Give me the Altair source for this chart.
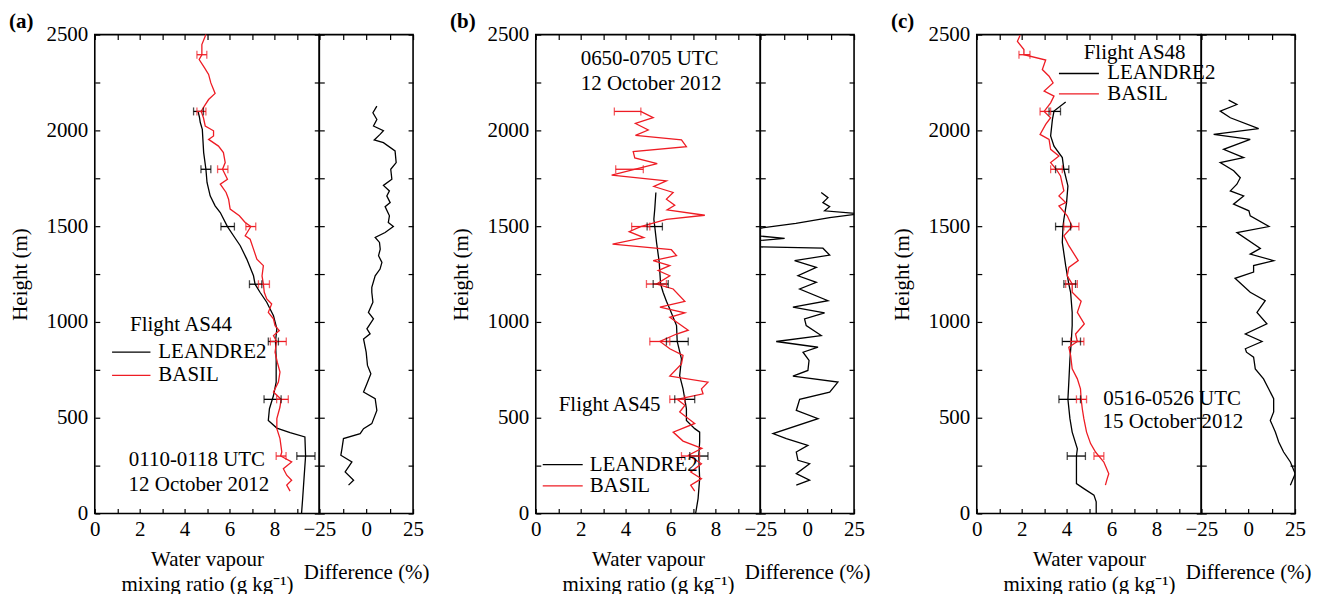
import altair as alt
import pandas as pd

FONT = "Liberation Serif"
FS = 21
RED = "#ee1c24"
BLK = "#000000"

# ---------------- panel (a) ----------------
a_basil_h = [2500, 2448, 2395, 2370, 2326, 2292, 2248, 2193, 2161, 2127, 2099, 2066, 2023, 1998, 1971,
             1953, 1918, 1884, 1832, 1797, 1745, 1719, 1676, 1641, 1589, 1554, 1519, 1498, 1450, 1432,
             1380, 1328, 1294, 1240, 1197, 1155, 1120, 1094, 1050, 1016, 981, 955, 929, 898, 842, 790,
             738, 686, 634, 596, 556, 495, 443, 391, 321, 300, 269, 234, 200, 174, 148, 117]
a_basil_v = [4.95, 4.77, 4.77, 4.65, 4.89, 5.07, 5.17, 5.36, 5.07, 4.88, 4.74, 4.84, 4.92, 5.29, 5.29,
             5.07, 5.51, 5.73, 5.81, 5.69, 5.91, 5.59, 5.85, 5.96, 6.03, 6.44, 6.70, 6.95, 6.70, 6.92,
             7.07, 7.22, 7.51, 7.45, 7.51, 7.55, 7.66, 7.88, 7.73, 7.96, 8.03, 8.22, 7.96, 8.10, 8.03, 8.13,
             8.25, 8.18, 7.96, 8.30, 8.25, 8.11, 8.11, 8.25, 8.33, 8.28, 8.77, 8.40, 8.55, 8.77, 8.55, 8.70]
a_lean_h = [2099, 2070, 2041, 2005, 1884, 1797, 1728, 1658, 1606, 1571, 1498, 1450, 1398, 1328, 1241,
            1197, 1155, 1103, 1033, 964, 898, 807, 686, 616, 547, 486, 446, 422, 400, 300, 182, 78, 0]
a_lean_v = [4.60, 4.66, 4.70, 4.79, 4.85, 4.95, 5.00, 5.14, 5.36, 5.59, 5.91, 6.18, 6.48, 6.77, 7.07,
            7.14, 7.36, 7.66, 7.96, 8.11, 8.05, 8.08, 8.08, 7.96, 7.78, 7.73, 8.11, 8.70, 9.36, 9.39, 9.32, 9.26, 9.21]
a_diff_h = [2127, 2092, 2057, 2023, 1998, 1979, 1950, 1936, 1893, 1832, 1797, 1745, 1713, 1684, 1658,
            1623, 1602, 1554, 1519, 1498, 1467, 1441, 1415, 1380, 1346, 1311, 1276, 1241, 1181, 1155,
            1103, 1050, 1016, 964, 938, 911, 842, 773, 729, 677, 634, 599, 538, 469, 443, 417, 391,
            339, 304, 269, 217, 174, 148]
a_diff_v = [5.7, 3.6, 5.7, 3.9, 9.2, 7.4, 4.3, 9.2, 15.4, 16.0, 13.1, 13.7, 9.2, 12.4, 11.0,
            12.8, 10.1, 12.4, 11.8, 14.5, 10.1, 4.8, 7.1, 7.5, 6.6, 8.4, 7.4, 4.8, 3.0, 3.0,
            3.6, 1.2, 3.9, 0.4, 2.1, -1.4, 0.0, 0.7, 2.5, 0.4, -1.4, 4.8, 5.7, 3.0, -1.4, -3.2, -12.1,
            -12.9, -13.5, -7.6, -11.2, -6.7, -9.4]
a_eb_h = [2395, 2099, 1797, 1498, 1197, 898, 596, 300]
a_eb_lo = [4.55, 4.55, 5.47, 6.73, 7.29, 7.82, 8.10, 8.08]
a_eb_hi = [4.99, 4.95, 5.93, 7.17, 7.78, 8.53, 8.62, 8.52]
a_el_h = [2099, 1797, 1498, 1197, 898, 596, 300]
a_el_lo = [4.40, 4.73, 5.62, 6.89, 7.73, 7.54, 9.00]
a_el_hi = [4.84, 5.17, 6.22, 7.44, 8.18, 8.30, 9.81]

# ---------------- panel (b) ----------------
b_basil_h = [2099, 2066, 2036, 2002, 1974, 1950, 1915, 1889, 1856, 1827, 1766, 1736, 1707, 1676, 1641,
             1609, 1585, 1557, 1536, 1498, 1471, 1440, 1406, 1377, 1346, 1320, 1294, 1268, 1241, 1198,
             1172, 1108, 1077, 1047, 1024, 957, 937, 898, 860, 825, 781, 717, 686, 651, 625, 596,
             565, 530, 470, 425, 378, 340, 304, 260, 217, 182, 148, 117]
b_basil_v = [4.67, 5.23, 4.44, 5.01, 4.44, 6.49, 6.71, 4.34, 4.41, 5.41, 3.38, 5.82, 5.26, 6.12, 5.82,
             6.19, 5.85, 7.53, 5.82, 4.67, 4.16, 4.81, 3.42, 6.04, 6.27, 5.23, 5.97, 5.45, 5.97, 5.38,
             6.12, 6.64, 5.53, 6.64, 5.97, 6.79, 6.27, 5.53, 5.97, 6.56, 6.49, 5.97, 7.67, 7.38, 7.45, 6.30,
             6.64, 6.41, 7.08, 6.12, 6.56, 7.40, 6.80, 7.38, 6.90, 7.38, 6.90, 7.08]
b_lean_h = [1676, 1589, 1536, 1498, 1415, 1311, 1198, 1155, 1108, 1068, 981, 898, 807, 720, 651, 596,
            547, 486, 443, 425, 373, 300, 182, 78, 0]
b_lean_v = [5.35, 5.30, 5.26, 5.30, 5.38, 5.50, 5.56, 5.67, 5.82, 5.97, 6.27, 6.30, 6.49, 6.41, 6.56, 6.64,
            6.71, 6.71, 7.08, 7.30, 7.30, 7.26, 7.30, 7.23, 7.12]
b_diff_h = [1676, 1649, 1623, 1602, 1580, 1565, 1545, 1515, 1488, 1450, 1436, 1424, 1392, 1385, 1349,
            1320, 1285, 1241, 1207, 1172, 1111, 1077, 1047, 1016, 981, 929, 898, 868, 842, 799, 747,
            717, 686, 634, 596, 538, 495, 417, 391, 356, 321, 278, 260, 208, 174, 148]
b_diff_v = [7.5, 11.1, 8.4, 12.0, 9.3, 28.0, 12.0, -6.0, -26.0, -27.0, -12.0, -27.0, -27.0, 8.4, 12.0,
            -6.7, 4.9, -4.9, 4.9, -4.0, 11.1, -7.6, 9.3, -1.4, -0.5, 7.5, -16.5, 5.8, -2.2, 1.0, 0.4,
            -7.6, 16.4, 12.0, -4.0, -5.8, 5.8, -18.2, -11.1, 0.4, -5.8, -4.9, 1.3, -5.8, 1.3, -5.8]
b_eb_h = [2099, 1797, 1498, 1198, 898, 596, 300]
b_eb_lo = [3.50, 3.56, 4.27, 4.93, 5.08, 5.97, 6.49]
b_eb_hi = [4.68, 4.79, 5.08, 5.82, 5.97, 6.64, 7.30]
b_el_h = [1498, 1198, 898, 596, 300]
b_el_lo = [4.96, 5.23, 5.82, 6.19, 6.86]
b_el_hi = [5.64, 5.90, 6.79, 7.08, 7.67]

# ---------------- panel (c) ----------------
c_basil_h = [2497, 2465, 2422, 2395, 2367, 2318, 2283, 2248, 2205, 2179, 2144, 2099, 2066, 2031, 1979,
             1953, 1901, 1866, 1832, 1797, 1762, 1719, 1684, 1658, 1623, 1606, 1554, 1498, 1450, 1398,
             1320, 1285, 1241, 1198, 1155, 1108, 1050, 990, 937, 898, 868, 825, 755, 703, 651, 596,
             547, 495, 425, 365, 321, 300, 269, 208, 182, 148]
c_basil_v = [1.93, 1.81, 2.10, 2.10, 3.07, 2.92, 3.22, 3.40, 3.00, 3.44, 3.29, 3.00, 3.29, 3.07, 2.82,
             3.22, 3.29, 3.66, 3.29, 3.54, 3.73, 3.81, 3.88, 3.66, 3.96, 3.66, 4.03, 4.25, 3.88, 4.10,
             4.52, 4.10, 4.03, 4.25, 4.25, 4.65, 4.48, 4.79, 4.40, 4.48, 4.10, 4.18, 4.25, 4.48, 4.62, 4.65,
             4.70, 4.77, 4.89, 5.07, 5.29, 5.44, 5.66, 5.88, 5.81, 5.73]
c_lean_h = [2148, 2101, 2057, 1971, 1918, 1858, 1797, 1710, 1623, 1536, 1498, 1415, 1294, 1198, 1155,
            1050, 981, 898, 807, 686, 596, 495, 425, 338, 300, 156, 130, 96, 61, 0]
c_lean_v = [3.96, 3.44, 3.37, 3.29, 3.44, 3.81, 3.88, 4.06, 4.00, 3.88, 3.84, 3.81, 3.96, 4.10, 4.18,
            4.25, 4.25, 4.21, 4.15, 4.10, 4.06, 4.15, 4.25, 4.48, 4.44, 4.44, 4.77, 5.22, 5.32, 5.32]
c_diff_h = [2158, 2135, 2101, 2066, 2009, 1979, 1953, 1901, 1858, 1832, 1789, 1753, 1719, 1684, 1658,
            1615, 1580, 1554, 1498, 1467, 1384, 1354, 1320, 1294, 1260, 1228, 1155, 1111, 1050, 990,
            937, 898, 860, 842, 816, 755, 703, 651, 599, 530, 486, 425, 373, 321, 269, 208, 148]
c_diff_v = [-10.4, -6.0, -14.9, -9.5, 5.6, -18.4, 1.1, -13.1, -2.4, -14.9, -7.7, -4.2, -6.0, -9.5, -2.4,
            -7.8, 0.4, 1.1, 11.1, -6.0, 6.5, 1.1, 13.6, 2.9, 2.9, -7.0, 1.1, 9.1, 4.7, 10.0,
            -1.5, 7.4, -1.5, -0.9, 2.9, 3.8, 8.2, 10.9, 13.6, 13.6, 11.8, 14.5, 16.3, 18.9, 22.5, 25.1, 22.5]
c_eb_h = [2395, 2099, 1797, 1498, 1198, 898, 596, 300]
c_eb_lo = [1.88, 2.82, 3.29, 3.88, 3.96, 4.18, 4.44, 5.22]
c_eb_hi = [2.37, 3.29, 3.81, 4.55, 4.48, 4.77, 4.89, 5.66]
c_el_h = [2099, 1797, 1498, 1198, 898, 596, 300]
c_el_lo = [3.22, 3.51, 3.51, 3.88, 3.81, 3.66, 4.03]
c_el_hi = [3.73, 4.10, 4.18, 4.40, 4.62, 4.62, 4.84]

# ---------------- annotations ----------------
a_text = ["Flight AS44", "0110-0118 UTC", "12 October 2012"]
a_text_v = [3.84, 4.55, 4.64]
a_text_h = [983, 280, 148]
a_leg = [0.77, 2.48, 2.83, 842, 721]      # line x1, x2, label x, black h, red h
b_text = ["0650-0705 UTC", "12 October 2012", "Flight AS45"]
b_text_v = [5.07, 5.14, 3.29]
b_text_h = [2373, 2243, 566]
b_leg = [0.31, 2.09, 2.40, 255, 144]
c_text = ["Flight AS48", "0516-0526 UTC", "15 October 2012"]
c_text_v = [7.03, 8.70, 8.74]
c_text_h = [2404, 599, 478]
c_leg = [3.66, 5.44, 5.81, 2297, 2191]

panel_labels = ["(a)", "(b)", "(c)"]
label_pos = [-3.82, 2535]   # position of the panel letter, in data units of the main panel

series_names = ["LEANDRE2", "BASIL"]

XS = alt.Scale(domain=[0, 10], nice=False, zero=False)
YS = alt.Scale(domain=[0, 2500], nice=False, zero=False)
DS = alt.Scale(domain=[-25, 25], nice=False, zero=False)

H_TICKS = list(range(0, 2501, 250))
TK = dict(offset=-5, tickSize=5, domain=False, grid=False, ticks=True, tickColor="black", tickWidth=1.2)


def series(h, v):
    return pd.DataFrame({"h": h, "v": v, "i": list(range(len(h)))})


def errs(h, lo, hi, color):
    return pd.DataFrame({"h": h, "lo": lo, "hi": hi, "c": [color] * len(h)})


def main_chart(label, basil, lean, eb, el, texts, tv, th, leg):
    x_bottom = alt.Axis(orient="bottom", values=list(range(0, 11)), format="d",
                        labelExpr="(datum.value % 2 == 0 && datum.value < 10) ? datum.label : ''",
                        labelPadding=5, labelFlush=False, labelOverlap=False,
                        title=["Water vapour", "mixing ratio (g kg\u207b\u00b9)"],
                        titleY=51, titleBaseline="middle", titleLineHeight=25, **TK)
    x_top = alt.Axis(orient="top", values=list(range(0, 11)), labels=False, title=None, **TK)
    y_left = alt.Axis(orient="left", values=H_TICKS, format="d",
                      labelExpr="datum.value % 500 == 0 ? datum.label : ''",
                      labelPadding=7, labelOverlap=False, labelFlush=False,
                      title="Height (m)", titleX=-79, titleY=240, titleBaseline="middle",
                      titleAngle=270, **TK)
    y_right = alt.Axis(orient="right", values=H_TICKS, labels=False, title=None, **TK)

    l_black = alt.Chart(series(*lean)).mark_line(color=BLK, strokeWidth=1.3).encode(
        x=alt.X("v:Q", scale=XS, axis=x_bottom),
        y=alt.Y("h:Q", scale=YS, axis=y_left),
        order=alt.Order("i:Q"))
    l_red = alt.Chart(series(*basil)).mark_line(color=RED, strokeWidth=1.3).encode(
        x=alt.X("v:Q", scale=XS, axis=x_top),
        y=alt.Y("h:Q", scale=YS, axis=y_right),
        order=alt.Order("i:Q"))

    edf = pd.concat([errs(*el, BLK), errs(*eb, RED)], ignore_index=True)
    e_rule = alt.Chart(edf).mark_rule(strokeWidth=1.3).encode(
        x=alt.X("lo:Q", scale=XS, axis=None), x2="hi:Q",
        y=alt.Y("h:Q", scale=YS, axis=None),
        color=alt.Color("c:N", scale=None))
    e_lo = alt.Chart(edf).mark_tick(orient="vertical", size=8, thickness=1.3).encode(
        x=alt.X("lo:Q", scale=XS, axis=None), y=alt.Y("h:Q", scale=YS, axis=None),
        color=alt.Color("c:N", scale=None))
    e_hi = alt.Chart(edf).mark_tick(orient="vertical", size=8, thickness=1.3).encode(
        x=alt.X("hi:Q", scale=XS, axis=None), y=alt.Y("h:Q", scale=YS, axis=None),
        color=alt.Color("c:N", scale=None))

    ldf = pd.DataFrame({"x1": [leg[0], leg[0]], "x2": [leg[1], leg[1]], "xt": [leg[2], leg[2]],
                        "h": [leg[3], leg[4]], "c": [BLK, RED], "t": series_names})
    leg_line = alt.Chart(ldf).mark_rule(strokeWidth=1.3).encode(
        x=alt.X("x1:Q", scale=XS, axis=None), x2="x2:Q",
        y=alt.Y("h:Q", scale=YS, axis=None), color=alt.Color("c:N", scale=None))
    leg_text = alt.Chart(ldf).mark_text(align="left", baseline="middle", font=FONT, fontSize=FS,
                                        color="black").encode(
        x=alt.X("xt:Q", scale=XS, axis=None), y=alt.Y("h:Q", scale=YS, axis=None), text="t:N")

    tdf = pd.DataFrame({"t": texts, "v": tv, "h": th})
    ann = alt.Chart(tdf).mark_text(align="center", baseline="middle", font=FONT, fontSize=FS,
                                   color="black").encode(
        x=alt.X("v:Q", scale=XS, axis=None), y=alt.Y("h:Q", scale=YS, axis=None), text="t:N")

    pdf = pd.DataFrame({"t": [label], "v": [label_pos[0]], "h": [label_pos[1]]})
    plab = alt.Chart(pdf).mark_text(align="left", baseline="alphabetic", font=FONT, fontSize=FS,
                                    fontWeight="bold", color="black").encode(
        x=alt.X("v:Q", scale=XS, axis=None), y=alt.Y("h:Q", scale=YS, axis=None), text="t:N")

    return alt.layer(l_black, l_red, e_rule, e_lo, e_hi, leg_line, leg_text, ann, plab).resolve_axis(
        x="independent", y="independent").properties(width=225, height=480)


def diff_chart(diff):
    x_bottom = alt.Axis(orient="bottom", values=[-25, -12.5, 0, 12.5, 25],
                        labelExpr="abs(datum.value) % 25 == 0 ? datum.label : ''",
                        labelPadding=5, labelFlush=False, labelOverlap=False,
                        title="Difference (%)", titleY=64, titleBaseline="middle", **TK)
    x_top = alt.Axis(orient="top", values=[-25, -12.5, 0, 12.5, 25], labels=False, title=None, **TK)
    y_left = alt.Axis(orient="left", values=H_TICKS, labels=False, title=None, **TK)
    y_right = alt.Axis(orient="right", values=H_TICKS, labels=False, title=None, **TK)
    df = series(*diff)
    line = alt.Chart(df).mark_line(color=BLK, strokeWidth=1.3, clip=True).encode(
        x=alt.X("v:Q", scale=DS, axis=x_bottom),
        y=alt.Y("h:Q", scale=YS, axis=y_left),
        order=alt.Order("i:Q"))
    ghost = alt.Chart(df).mark_point(opacity=0).encode(
        x=alt.X("v:Q", scale=DS, axis=x_top),
        y=alt.Y("h:Q", scale=YS, axis=y_right))
    return alt.layer(line, ghost).resolve_axis(x="independent", y="independent").properties(
        width=94, height=480)


def spacer():
    return alt.Chart(pd.DataFrame({"s": [0]})).mark_point(opacity=0).encode(
        x=alt.X("s:Q", axis=None), y=alt.Y("s:Q", axis=None)).properties(
        width=123, height=480, view=alt.ViewConfig(strokeOpacity=0))


def panel(label, basil, lean, diff, eb, el, texts, tv, th, leg):
    return [main_chart(label, basil, lean, eb, el, texts, tv, th, leg), diff_chart(diff)]


pa = panel(panel_labels[0], (a_basil_h, a_basil_v), (a_lean_h, a_lean_v), (a_diff_h, a_diff_v),
           (a_eb_h, a_eb_lo, a_eb_hi), (a_el_h, a_el_lo, a_el_hi), a_text, a_text_v, a_text_h, a_leg)
pb = panel(panel_labels[1], (b_basil_h, b_basil_v), (b_lean_h, b_lean_v), (b_diff_h, b_diff_v),
           (b_eb_h, b_eb_lo, b_eb_hi), (b_el_h, b_el_lo, b_el_hi), b_text, b_text_v, b_text_h, b_leg)
pc = panel(panel_labels[2], (c_basil_h, c_basil_v), (c_lean_h, c_lean_v), (c_diff_h, c_diff_v),
           (c_eb_h, c_eb_lo, c_eb_hi), (c_el_h, c_el_lo, c_el_hi), c_text, c_text_v, c_text_h, c_leg)

chart = alt.hconcat(*pa, spacer(), *pb, spacer(), *pc, spacing=0, bounds="flush").properties(
    padding={"left": 8, "top": 9, "right": 5, "bottom": 2},
    background="white",
).configure_view(stroke="black", strokeWidth=1.6).configure_axis(
    labelFont=FONT, labelFontSize=FS, labelColor="black",
    titleFont=FONT, titleFontSize=FS, titleFontWeight="normal", titleColor="black")

chart.save("out.html", embed_options={"renderer": "svg", "actions": False})
